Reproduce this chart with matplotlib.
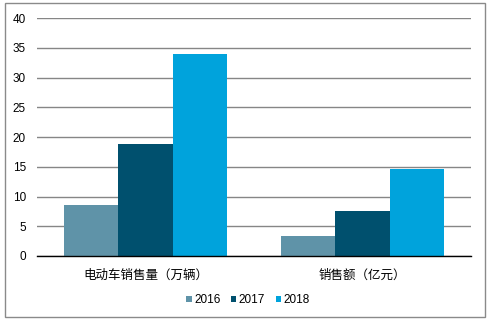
import numpy as np
import matplotlib
matplotlib.use("Agg")
import matplotlib.pyplot as plt
from matplotlib.patches import Rectangle

plt.rcParams['font.family'] = ['Liberation Sans', 'Noto Sans CJK SC', 'DejaVu Sans']

categories = ["电动车销售量（万辆）", "销售额（亿元）"]
years = ["2016", "2017", "2018"]
values_2016 = [8.5, 3.4]
values_2017 = [18.9, 7.6]
values_2018 = [34.0, 14.7]
colors = ["#5F93A8", "#00506E", "#00A3DC"]
y_ticks = [0, 5, 10, 15, 20, 25, 30, 35, 40]

fig = plt.figure(figsize=(4.89, 3.22), dpi=100)
ax = fig.add_axes([0.0757, 0.205, 0.8875, 0.739])

x = np.arange(len(categories))
width = 0.25
series = [values_2016, values_2017, values_2018]
for i, (vals, yr, c) in enumerate(zip(series, years, colors)):
    ax.bar(x + (i - 1) * width, vals, width, color=c, label=yr, zorder=3)

ax.set_xlim(-0.5, 1.5)
ax.set_ylim(0, 40)
ax.set_yticks(y_ticks)
ax.yaxis.grid(True, color="#868686", linewidth=1.0, zorder=0)
ax.set_axisbelow(True)
for s in ["top", "right", "left"]:
    ax.spines[s].set_visible(False)
ax.spines["bottom"].set_color("#000000")
ax.spines["bottom"].set_linewidth(1.0)
ax.spines["bottom"].set_zorder(4)
ax.tick_params(axis="both", length=0, labelsize=8.5, colors="#000000")
ax.tick_params(axis="y", pad=8)
ax.tick_params(axis="x", pad=10)
ax.set_xticks(x)
ax.set_xticklabels(categories, fontsize=9)

# legend squares are small, entries sit close together
leg = fig.legend(loc="center", bbox_to_anchor=(0.507, 0.068), ncol=3, frameon=False,
                 fontsize=8.5, handlelength=0.45, handleheight=0.45, handletextpad=0.2,
                 columnspacing=0.9)

fig.patches.append(Rectangle((5 / 489, 5 / 322), 480 / 489, 314 / 322,
                             transform=fig.transFigure, fill=False,
                             edgecolor="#8a8a8a", linewidth=1.0))

fig.savefig("out.png", dpi=100)
